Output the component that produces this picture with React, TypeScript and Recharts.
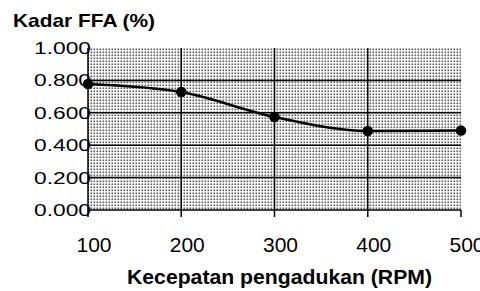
import React from "react";
import { LineChart, Line, XAxis, YAxis, CartesianGrid } from "recharts";

const rpm = [100, 200, 300, 400, 500];
const ffa = [0.778, 0.728, 0.574, 0.488, 0.49];
const yTicks = [0, 0.2, 0.4, 0.6, 0.8, 1.0];
const xTicks = [100, 200, 300, 400, 500];
const yTitle = "Kadar FFA (%)";
const xTitle = "Kecepatan pengadukan (RPM)";

const data = rpm.map((r, i) => ({ rpm: r, ffa: ffa[i] }));
const FONT = "'Liberation Sans', Arial, sans-serif";

const YTick = (props: any) => {
  const { x, y, payload } = props;
  const label = Number(payload.value).toFixed(3);
  return (
    <text
      x={x + 11}
      y={y + 6}
      textAnchor="end"
      fontFamily={FONT}
      fontSize={17}
      fill="#000"
      textLength={57}
      lengthAdjust="spacingAndGlyphs"
    >
      {label}
    </text>
  );
};

const XTick = (props: any) => {
  const { x, y, payload } = props;
  return (
    <text
      x={x + 6}
      y={y + 33}
      textAnchor="middle"
      fontFamily={FONT}
      fontSize={21}
      fill="#000"
    >
      {payload.value}
    </text>
  );
};

export default function App() {
  return (
    <div style={{ position: "absolute", left: 0, top: 0, width: 480, height: 291, overflow: "hidden", background: "#fff" }}>
      <LineChart
        width={480}
        height={291}
        data={data}
        margin={{ top: 48, right: 19, bottom: 51, left: 0 }}
      >
        <defs>
          <pattern id="dots" width="3" height="3" patternUnits="userSpaceOnUse">
            <rect x="0" y="0" width="3" height="3" fill="#ffffff" />
            <rect x="0.5" y="0.5" width="1.6" height="1.6" fill="#555555" />
          </pattern>
        </defs>
        <CartesianGrid
          fill="url(#dots)"
          fillOpacity={1}
          stroke="#000"
          strokeWidth={1.5}
          horizontalValues={[0.2, 0.4, 0.6, 0.8]}
          verticalValues={[200, 300, 400]}
        />
        <XAxis
          dataKey="rpm"
          type="number"
          domain={[100, 500]}
          ticks={xTicks}
          height={30}
          axisLine={{ stroke: "#000", strokeWidth: 1.5 }}
          tickLine={{ stroke: "#000", strokeWidth: 1.5 }}
          tickSize={7}
          tick={<XTick />}
          interval={0}
        />
        <YAxis
          type="number"
          domain={[0, 1]}
          ticks={yTicks}
          width={88}
          axisLine={{ stroke: "#000", strokeWidth: 1.5 }}
          tickLine={false}
          tick={<YTick />}
          interval={0}
        />
        <Line
          type="monotone"
          dataKey="ffa"
          stroke="#000"
          strokeWidth={2.5}
          dot={{ r: 4, fill: "#000", stroke: "#000" }}
          isAnimationActive={false}
        />
      </LineChart>
      <svg width={480} height={291} style={{ position: "absolute", left: 0, top: 0, pointerEvents: "none" }}>
        <text x={13} y={27} fontFamily={FONT} fontWeight="bold" fontSize={19} fill="#000" textLength={142} lengthAdjust="spacingAndGlyphs">
          {yTitle}
        </text>
        <text x={127} y={284} fontFamily={FONT} fontWeight="bold" fontSize={20} fill="#000" textLength={305} lengthAdjust="spacingAndGlyphs">
          {xTitle}
        </text>
      </svg>
    </div>
  );
}
